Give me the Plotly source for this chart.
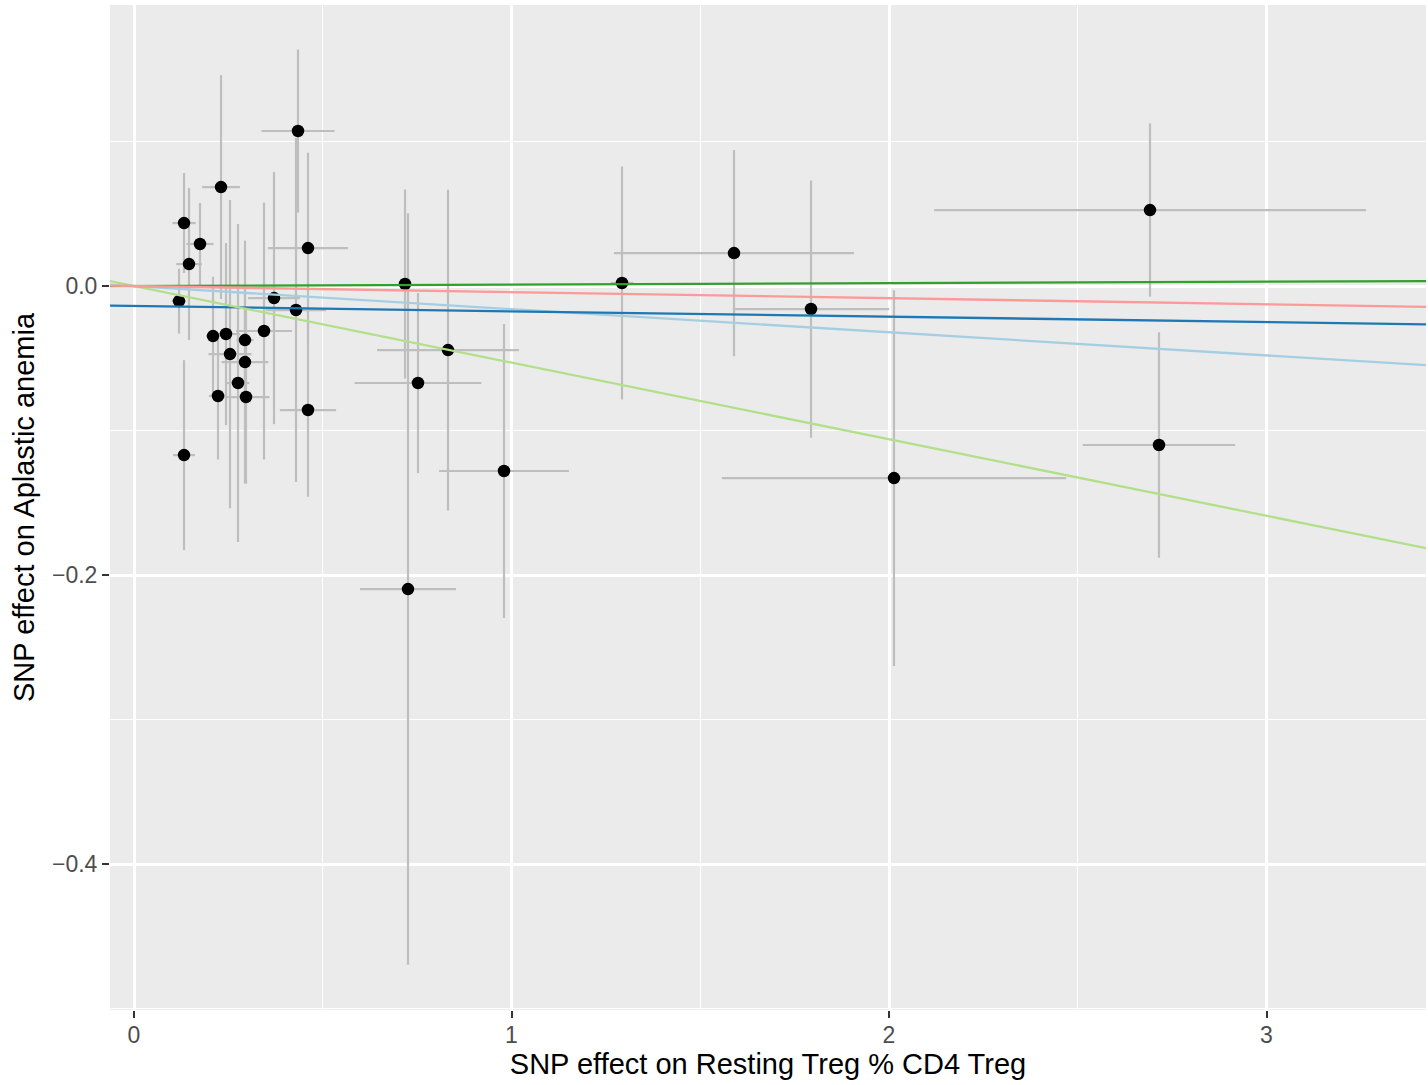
import plotly.graph_objects as go

# ---- data (SNP-level estimates) ----
snp_x = [0.4344, 0.2305, 0.1325, 0.1748, 0.1457, 0.4609, 0.1192, 0.3709, 0.4291, 0.3444,
         0.2093, 0.2437, 0.2940, 0.2543, 0.2940, 0.2755, 0.2225, 0.2967, 0.1325, 0.4609,
         0.7179, 0.7258, 0.8318, 0.7523, 0.9801, 1.2927, 1.5894, 1.7934, 2.0132, 2.6914,
         2.7152]
snp_y = [0.1073, 0.0685, 0.0436, 0.0291, 0.0152, 0.0263, -0.0104, -0.0083, -0.0166, -0.0311,
         -0.0346, -0.0332, -0.0374, -0.0471, -0.0526, -0.0671, -0.0761, -0.0768, -0.1170, -0.0858,
         0.0014, -0.2097, -0.0443, -0.0671, -0.1280, 0.0021, 0.0228, -0.0159, -0.1329, 0.0526,
         -0.1100]
se_x = [0.0967, 0.050, 0.031, 0.036, 0.034, 0.106, 0.019, 0.069, 0.080, 0.074,
        0.018, 0.037, 0.0225, 0.057, 0.062, 0.030, 0.024, 0.062, 0.029, 0.0745,
        0.015, 0.127, 0.188, 0.168, 0.172, 0.03, 0.318, 0.207, 0.456, 0.572,
        0.202]
se_y = [0.0564, 0.0775, 0.0346, 0.0284, 0.0526, 0.066, 0.0225, 0.0873, 0.119, 0.089,
        0.041, 0.063, 0.035, 0.1066, 0.084, 0.110, 0.044, 0.060, 0.0657, 0.060,
        0.0654, 0.26, 0.111, 0.0623, 0.1017, 0.0806, 0.0713, 0.089, 0.130, 0.060,
        0.078]

methods = ["Inverse variance weighted", "MR Egger", "Simple mode", "Weighted median", "Weighted mode"]
intercepts = [0.0, -0.0138, 0.0, 0.0, 0.0]
slopes = [-0.016, -0.0037, -0.053, 0.001, -0.0042]
method_colors = ["#a6cee3", "#1f78b4", "#b2df8a", "#33a02c", "#fb9a99"]

x_ticks = [0, 1, 2, 3]
y_ticks = [0.0, -0.2, -0.4]
x_range = [-0.0636, 3.4225]
y_range = [-0.501, 0.1945]

x_title = "SNP effect on Resting Treg % CD4 Treg"
y_title = "SNP effect on Aplastic anemia"

FONT = "Liberation Sans, Arial, Helvetica, sans-serif"

fig = go.Figure()

# error bars (drawn first, beneath points)
fig.add_trace(go.Scatter(
    x=snp_x, y=snp_y, mode="markers",
    marker=dict(size=1, color="rgba(0,0,0,0)"),
    error_x=dict(type="data", array=se_x, color="#bebebe", thickness=2.2, width=0),
    error_y=dict(type="data", array=se_y, color="#bebebe", thickness=2.2, width=0),
    showlegend=False, hoverinfo="skip",
))

# points
fig.add_trace(go.Scatter(
    x=snp_x, y=snp_y, mode="markers",
    marker=dict(size=12.5, color="black", line=dict(width=0)),
    showlegend=False,
))

# MR method lines spanning the panel
for name, a, b, col in zip(methods, intercepts, slopes, method_colors):
    xs = list(x_range)
    ys = [a + b * v for v in xs]
    fig.add_trace(go.Scatter(
        x=xs, y=ys, mode="lines", name=name,
        line=dict(color=col, width=2.3),
        showlegend=False,
    ))

axis_common = dict(
    showline=False, zeroline=False,
    showgrid=True, gridcolor="white", gridwidth=2.7,
    ticks="outside", ticklen=7, tickwidth=2, tickcolor="#333333",
    tickfont=dict(family=FONT, size=23, color="#4D4D4D"),
)

fig.update_xaxes(
    **axis_common,
    range=x_range, tickmode="array", tickvals=x_ticks,
    ticktext=[str(v) for v in x_ticks],
    ticklabelstandoff=-3,
    minor=dict(tickmode="array", tickvals=[0.5, 1.5, 2.5], showgrid=True,
               gridcolor="white", gridwidth=1.4, ticks=""),
    title=dict(text=x_title, font=dict(family=FONT, size=29, color="black"), standoff=6),
)
fig.update_yaxes(
    **axis_common,
    range=y_range, tickmode="array", tickvals=y_ticks,
    ticktext=["0.0", "\u22120.2", "\u22120.4"],
    minor=dict(tickmode="array", tickvals=[0.1, -0.1, -0.3, -0.5], showgrid=True,
               gridcolor="white", gridwidth=1.4, ticks=""),
    title=dict(text=y_title, font=dict(family=FONT, size=29, color="black"), standoff=8),
)

fig.update_layout(
    width=1428, height=1085,
    margin=dict(l=110, r=2, t=5, b=75),
    paper_bgcolor="white", plot_bgcolor="#EBEBEB",
    showlegend=False,
    font=dict(family=FONT),
)

fig.write_html(
    "out.html",
    config={"displayModeBar": False},
    post_script="document.body.style.margin='0px';document.body.style.overflow='hidden';",
)
